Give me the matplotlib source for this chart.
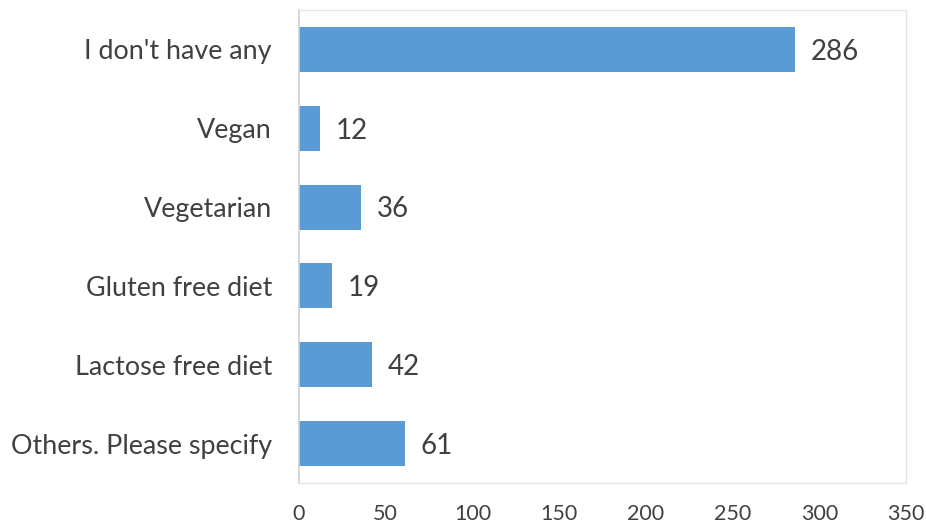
import matplotlib
matplotlib.use("Agg")
import matplotlib.pyplot as plt

categories = ["I don't have any", "Vegan", "Vegetarian", "Gluten free diet",
              "Lactose free diet", "Others. Please specify"]
counts = [286, 12, 36, 19, 42, 61]
xticks = [0, 50, 100, 150, 200, 250, 300, 350]

plt.rcParams['font.family'] = ['Lato', 'DejaVu Sans']
text_color = "#404040"

fig = plt.figure(figsize=(9.26, 5.26), dpi=100)
ax = fig.add_axes([0.3229, 0.0817, 0.6555, 0.8993])

ypos = list(range(len(categories)))
ax.barh(ypos, counts, height=0.57, color="#5B9BD5", zorder=2)
ax.set_ylim(len(categories) - 0.5, -0.5)
ax.set_xlim(0, 350)
ax.set_yticks(ypos)
ax.set_yticklabels(categories, fontsize=19.4, color=text_color)
ax.set_xticks(xticks)
ax.set_xticklabels([str(t) for t in xticks], fontsize=15.5, color=text_color)
ax.tick_params(axis='both', length=0)
ax.tick_params(axis='y', pad=19.5)
ax.tick_params(axis='x', pad=15)

for s in ['top', 'right', 'bottom']:
    ax.spines[s].set_color("#E6E6E6")
    ax.spines[s].set_linewidth(1.0)
ax.spines['left'].set_color("#D0D0D0")
ax.spines['left'].set_linewidth(1.2)

for y, v in zip(ypos, counts):
    ax.text(v + 9, y + 0.03, str(v), va='center', ha='left', fontsize=20, color=text_color)

fig.savefig("out.png", dpi=100)
